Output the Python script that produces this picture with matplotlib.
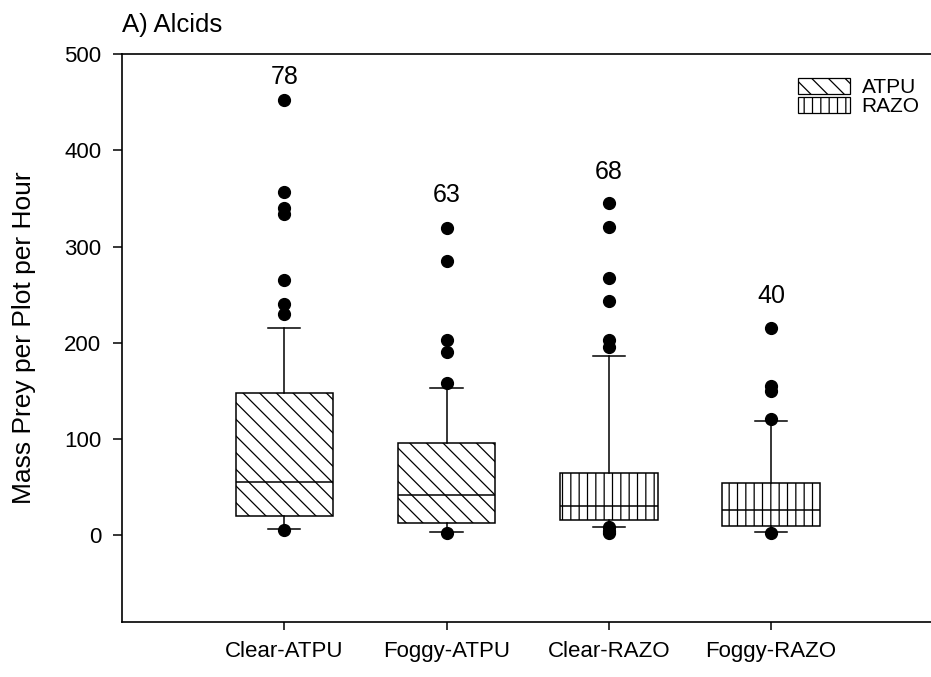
import matplotlib.pyplot as plt
from matplotlib.patches import Patch

plt.rcParams['font.family'] = ['Liberation Sans', 'DejaVu Sans']
plt.rcParams['hatch.linewidth'] = 0.9

# box statistics per group
groups = ['Clear-ATPU', 'Foggy-ATPU', 'Clear-RAZO', 'Foggy-RAZO']
species = ['ATPU', 'ATPU', 'RAZO', 'RAZO']
q1 = [20, 13, 16, 9.6]
med = [56, 42, 31, 26.5]
q3 = [148, 96, 65, 54]
whislo = [7, 4, 9, 4]
whishi = [216, 153, 186, 119]
fliers = [
    [452, 357, 340, 334, 265, 240, 230, 6],
    [319, 285, 203, 191, 158, 3],
    [345, 320, 267, 244, 203, 196, 9, 5, 3],
    [215, 155, 150, 121, 3],
]
n_obs = [78, 63, 68, 40]
n_label_y = [476, 354, 378, 249]

hatches = {'ATPU': '\\\\', 'RAZO': '||'}

stats = []
for i, g in enumerate(groups):
    stats.append(dict(label=g, q1=q1[i], med=med[i], q3=q3[i],
                      whislo=whislo[i], whishi=whishi[i], fliers=fliers[i]))

fig = plt.figure(figsize=(9.31, 6.77), dpi=100)
ax = fig.add_axes([0.131, 0.0812, 0.8716, 0.8388])

pos = [1, 2, 3, 4]
lw = 1.1
bp = ax.bxp(stats, positions=pos, widths=0.6, capwidths=0.2,
            patch_artist=True, showfliers=True,
            boxprops=dict(facecolor='white', edgecolor='black', linewidth=lw),
            medianprops=dict(color='black', linewidth=lw),
            whiskerprops=dict(color='black', linewidth=lw),
            capprops=dict(color='black', linewidth=lw),
            flierprops=dict(marker='o', markerfacecolor='black',
                            markeredgecolor='black', markersize=8.5))

for box, sp in zip(bp['boxes'], species):
    box.set_hatch(hatches[sp])

for x, n, y in zip(pos, n_obs, n_label_y):
    ax.text(x, y, str(n), ha='center', va='center', fontsize=18)

ax.set_xlim(0, 5)
ax.set_ylim(-90, 500)
ax.set_yticks([0, 100, 200, 300, 400, 500])
ax.set_xticks(pos)
ax.set_xticklabels(groups)
ax.tick_params(axis='y', labelsize=16, direction='out', length=6.5, width=1.1, pad=8.5)
ax.tick_params(axis='x', labelsize=16, direction='out', length=6, width=1.1, pad=8)
ax.spines['right'].set_visible(False)
for s in ['left', 'bottom', 'top']:
    ax.spines[s].set_linewidth(1.2)
ax.set_ylabel('Mass Prey per Plot per Hour', fontsize=19, labelpad=20)
ax.set_title('A) Alcids', loc='left', fontsize=18.5, pad=16)

handles = [Patch(facecolor='white', edgecolor='black', linewidth=0.9,
                 hatch=hatches[s], label=s) for s in ['ATPU', 'RAZO']]
ax.legend(handles=handles, loc='upper left', frameon=False, fontsize=15,
          handlelength=2.5, handleheight=0.77, handletextpad=0.55,
          labelspacing=0.0, borderpad=0, borderaxespad=0,
          bbox_to_anchor=(798 / 931, 1 - 78 / 677),
          bbox_transform=fig.transFigure)

fig.savefig('out.png', dpi=100)
